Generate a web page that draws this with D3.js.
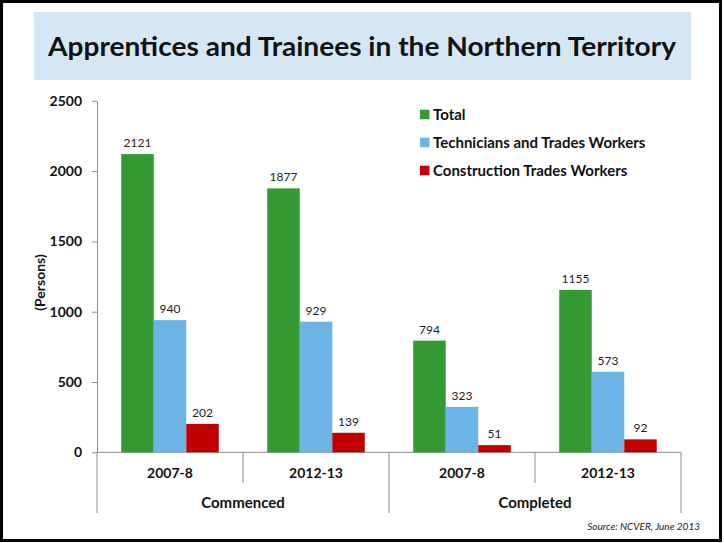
<!DOCTYPE html>
<html>
<head>
<meta charset="utf-8">
<script src="https://cdn.jsdelivr.net/npm/d3@7"></script>
<style>
  body { margin: 0; background: #fff; }
  svg { display: block; }
</style>
</head>
<body>
<div id="chart"></div>
<script>
const width = 724;
const height = 543;

// data
const groups = ["Commenced", "Completed"];
const periods = ["2007-8", "2012-13"];
const seriesNames = ["Total", "Technicians and Trades Workers", "Construction Trades Workers"];
const total = [2121, 1877, 794, 1155];
const techTrades = [940, 929, 323, 573];
const construction = [202, 139, 51, 92];
const yTicks = [0, 500, 1000, 1500, 2000, 2500];

const colors = ["#339933", "#6DB4E6", "#C00000"];
const font = "Lato, 'Open Sans', sans-serif";

const categories = [];
groups.forEach(function(g) {
  periods.forEach(function(p) {
    categories.push({ key: g + "|" + p, group: g, period: p });
  });
});

const seriesValues = [total, techTrades, construction];
const bars = [];
categories.forEach(function(c, i) {
  seriesNames.forEach(function(s, j) {
    bars.push({ cat: c.key, series: s, value: seriesValues[j][i], color: colors[j] });
  });
});

const svg = d3.select("#chart")
  .append("svg")
  .attr("width", width)
  .attr("height", height)
  .style("font-family", font);

// outer frame
svg.append("rect")
  .attr("x", 1.5)
  .attr("y", 1.5)
  .attr("width", 719)
  .attr("height", 539)
  .attr("fill", "#fff")
  .attr("stroke", "#000")
  .attr("stroke-width", 3);

// title banner
svg.append("rect")
  .attr("x", 34)
  .attr("y", 12)
  .attr("width", 657)
  .attr("height", 68)
  .attr("fill", "#D5E7F5");

svg.append("text")
  .attr("x", 362)
  .attr("y", 56)
  .attr("text-anchor", "middle")
  .attr("textLength", 628)
  .attr("lengthAdjust", "spacingAndGlyphs")
  .style("font-size", "27px")
  .style("font-weight", "700")
  .attr("fill", "#111")
  .text("Apprentices and Trainees in the Northern Territory");

// scales
const x = d3.scaleBand()
  .domain(categories.map(function(c) { return c.key; }))
  .range([97, 681])
  .padding(0);

const xGroup = d3.scaleBand()
  .domain(groups)
  .range([97, 681])
  .padding(0);

const xInner = d3.scaleBand()
  .domain(seriesNames)
  .range([0, x.bandwidth()])
  .paddingInner(0)
  .paddingOuter(0.745);

const y = d3.scaleLinear()
  .domain([0, 2500])
  .range([452.3, 100.8]);

const axisColor = "#8C8C8C";

// y axis
const yAxis = svg.append("g")
  .attr("transform", "translate(97,0)")
  .call(d3.axisLeft(y)
    .tickValues(yTicks)
    .tickFormat(d3.format("d"))
    .tickSize(5)
    .tickSizeOuter(0)
    .tickPadding(10));

yAxis.select(".domain").attr("stroke", axisColor);
yAxis.selectAll(".tick line").attr("stroke", axisColor);
yAxis.selectAll(".tick text")
  .attr("fill", "#111")
  .style("font-family", font)
  .style("font-size", "14px")
  .style("font-weight", "700");

svg.append("text")
  .attr("transform", "translate(45," + ((y(0) + y(2500)) / 2 + 6) + ") rotate(-90)")
  .attr("text-anchor", "middle")
  .style("font-size", "14px")
  .style("font-weight", "700")
  .attr("fill", "#111")
  .text("(Persons)");

// x axis line and multi-level dividers
const x0 = x.range()[0];
const x1 = x.range()[1];
svg.append("line")
  .attr("x1", x0)
  .attr("x2", x1)
  .attr("y1", y(0))
  .attr("y2", y(0))
  .attr("stroke", axisColor);

const boundaries = categories.map(function(c) { return x(c.key); }).concat([x1]);
svg.selectAll(".divider")
  .data(boundaries)
  .enter()
  .append("line")
  .attr("class", "divider")
  .attr("x1", function(d) { return d; })
  .attr("x2", function(d) { return d; })
  .attr("y1", y(0))
  .attr("y2", function(d, i) { return i % 2 === 0 ? 513 : 483; })
  .attr("stroke", axisColor);

svg.selectAll(".period-label")
  .data(categories)
  .enter()
  .append("text")
  .attr("class", "period-label")
  .attr("x", function(d) { return x(d.key) + x.bandwidth() / 2; })
  .attr("y", 478)
  .attr("text-anchor", "middle")
  .style("font-size", "14px")
  .style("font-weight", "700")
  .attr("fill", "#111")
  .text(function(d) { return d.period; });

svg.selectAll(".group-label")
  .data(groups)
  .enter()
  .append("text")
  .attr("class", "group-label")
  .attr("x", function(d) { return xGroup(d) + xGroup.bandwidth() / 2; })
  .attr("y", 508)
  .attr("text-anchor", "middle")
  .style("font-size", "15px")
  .style("font-weight", "700")
  .attr("fill", "#111")
  .text(function(d) { return d; });

// bars
svg.selectAll(".bar")
  .data(bars)
  .enter()
  .append("rect")
  .attr("class", "bar")
  .attr("x", function(d) { return x(d.cat) + xInner(d.series); })
  .attr("y", function(d) { return y(d.value); })
  .attr("width", xInner.bandwidth())
  .attr("height", function(d) { return y(0) - y(d.value); })
  .attr("fill", function(d) { return d.color; });

svg.selectAll(".value-label")
  .data(bars)
  .enter()
  .append("text")
  .attr("class", "value-label")
  .attr("x", function(d) { return x(d.cat) + xInner(d.series) + xInner.bandwidth() / 2; })
  .attr("y", function(d) { return y(d.value) - 7; })
  .attr("text-anchor", "middle")
  .style("font-size", "12px")
  .attr("fill", "#222")
  .text(function(d) { return d.value; });

// legend
const legend = svg.selectAll(".legend")
  .data(seriesNames)
  .enter()
  .append("g")
  .attr("class", "legend")
  .attr("transform", function(d, i) {
    return "translate(420," + (114.5 + i * 28) + ")";
  });

legend.append("rect")
  .attr("x", 0)
  .attr("y", -4.75)
  .attr("width", 9.5)
  .attr("height", 9.5)
  .attr("fill", function(d, i) { return colors[i]; });

legend.append("text")
  .attr("x", 13)
  .attr("dy", "0.36em")
  .style("font-size", "15px")
  .style("font-weight", "700")
  .attr("fill", "#111")
  .text(function(d) { return d; });

// source note
svg.append("text")
  .attr("x", 700)
  .attr("y", 530)
  .attr("text-anchor", "end")
  .style("font-size", "10px")
  .style("font-style", "italic")
  .attr("fill", "#222")
  .text("Source: NCVER, June 2013");
</script>
</body>
</html>
